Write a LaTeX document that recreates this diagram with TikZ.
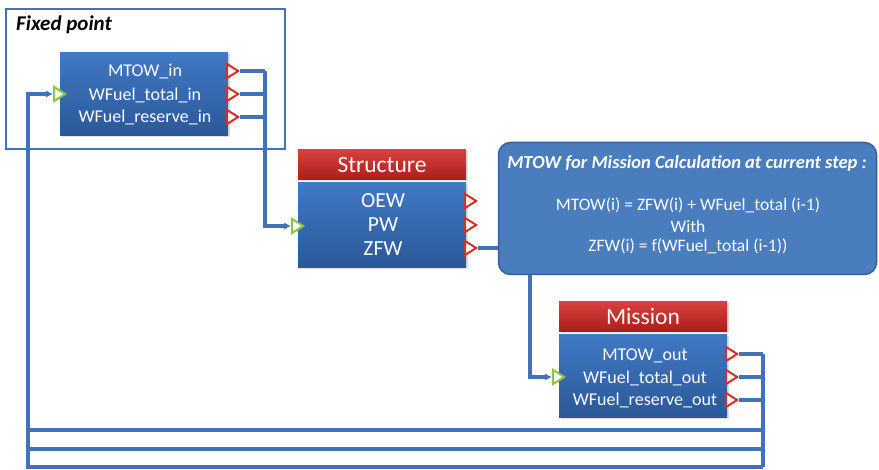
\documentclass[tikz,border=0pt]{standalone}
\usepackage{fontspec}
\setmainfont{Carlito}
\usetikzlibrary{shapes.geometric,arrows.meta,shadows}
\definecolor{wireblue}{HTML}{4472B8}
\definecolor{bodytop}{HTML}{4079C4}
\definecolor{bodybot}{HTML}{2B5898}
\definecolor{headtop}{HTML}{D8413C}
\definecolor{headbot}{HTML}{A81F1C}
\definecolor{portred}{HTML}{D2302C}
\definecolor{portgreen}{HTML}{8CC63F}
\definecolor{callfill}{HTML}{4A7DBD}
\definecolor{calldraw}{HTML}{36609A}
\tikzset{
  wire/.style={draw=wireblue, line width=3.2pt},
  wirearrow/.style={wire, -{Latex[length=7pt,width=7pt]}},
  body/.style={rectangle, top color=bodytop, bottom color=bodybot, draw=none,
    minimum width=168pt, inner sep=0pt, drop shadow={opacity=0.25,shadow xshift=1.5pt,shadow yshift=-1.5pt}},
  head/.style={rectangle, top color=headtop, bottom color=headbot, draw=none,
    minimum width=168pt, minimum height=30pt, inner sep=0pt, text=white,
    font=\fontsize{23.5}{25}\selectfont, drop shadow={opacity=0.25,shadow xshift=1.5pt,shadow yshift=-1.5pt}},
  lbl/.style={text=white, font=\fontsize{18}{20}\selectfont, inner sep=0pt},
  biglbl/.style={text=white, font=\fontsize{21.5}{23}\selectfont, inner sep=0pt},
  outport/.style={isosceles triangle, isosceles triangle apex angle=65, draw=portred,
    fill=white, line width=2pt, inner sep=0pt, minimum size=11pt},
  inport/.style={outport, draw=portgreen},
  ctext/.style={text=white, font=\fontsize{17.5}{19}\selectfont, inner sep=0pt},
}
\begin{document}
\begin{tikzpicture}[x=1pt,y=-1pt]
\useasboundingbox (0,0) rectangle (879,470);
% Fixed point frame
\draw[wireblue, line width=2.8pt] (6,9) rectangle (285,149);
\node[anchor=west, font=\fontsize{21}{23}\selectfont\bfseries\itshape, inner sep=0pt] (fp) at (16,25) {Fixed point};
% Fixed point block
\node[body, minimum height=83pt] (A) at (144,94) {};
\node[lbl] (a1) at (145,72) {MTOW\_in};
\node[lbl] (a2) at (145,95) {WFuel\_total\_in};
\node[lbl] (a3) at (145,117) {WFuel\_reserve\_in};
\node[outport] (ao1) at (231,71) {};
\node[outport] (ao2) at (231,94) {};
\node[outport] (ao3) at (231,117) {};
\node[inport] (ai) at (58,94) {};
% Structure block
\node[head] (SH) at (382,165) {Structure};
\node[body, minimum height=85pt] (S) at (382,225) {};
\node[biglbl] (s1) at (383,201) {OEW};
\node[biglbl] (s2) at (383,225) {PW};
\node[biglbl] (s3) at (383,249) {ZFW};
\node[outport] (so1) at (469,201) {};
\node[outport] (so2) at (469,225) {};
\node[outport] (so3) at (469,248) {};
\node[inport] (si) at (296,226) {};
% Callout
\node[draw=calldraw, fill=callfill, line width=1.5pt, rounded corners=12pt,
  minimum width=378pt, minimum height=132pt, inner sep=0pt] (C) at (687.5,208.5) {};
\node[text=white, font=\fontsize{18.5}{20}\selectfont\bfseries\itshape, inner sep=0pt] (ct) at (687,163) {MTOW for Mission Calculation at current step :};
\node[ctext] (c1) at (688,205) {MTOW(i) = ZFW(i) + WFuel\_total (i-1)};
\node[ctext] (c2) at (688,226) {With};
\node[ctext] (c3) at (688,246) {ZFW(i) = f(WFuel\_total (i-1))};
% Mission block
\node[head] (MH) at (643,317) {Mission};
\node[body, minimum height=83pt] (M) at (643,376) {};
\node[lbl] (m1) at (645,356) {MTOW\_out};
\node[lbl] (m2) at (645,378) {WFuel\_total\_out};
\node[lbl] (m3) at (645,400) {WFuel\_reserve\_out};
\node[outport] (mo1) at (730,354) {};
\node[outport] (mo2) at (730,377) {};
\node[outport] (mo3) at (730,400) {};
\node[inport] (mi) at (557,377) {};
% coordinates
\coordinate (fx) at (265,71);
\coordinate (fb) at (265,226);
\coordinate (cb) at (530,377);
\coordinate (rx) at (763,354);
\coordinate (lx) at (28,94);
% wires from fixed point to structure
\draw[wire] (ao1.east) -- (fx);
\draw[wire] (ao2.east) -- (ao2.east -| fx);
\draw[wire] (ao3.east) -- (ao3.east -| fx);
\draw[wirearrow] (fx) -- (fb) -- (si.west);
% ZFW to callout
\draw[wire] (so3.east) -- (so3.east -| C.west);
% callout to mission
\draw[wirearrow] (C.south -| cb) -- (cb) -- (mi.west);
% mission outputs
\draw[wire] (mo1.east) -- (rx);
\draw[wire] (mo2.east) -- (mo2.east -| rx);
\draw[wire] (mo3.east) -- (mo3.east -| rx);
\draw[wire] (rx) -- (763,467);
\draw[wire] (763,430) -- (28,430);
\draw[wire] (763,449) -- (28,449);
\draw[wirearrow] (763,467) -- (28,467) -- (lx) -- (ai.west);
\end{tikzpicture}
\end{document}
